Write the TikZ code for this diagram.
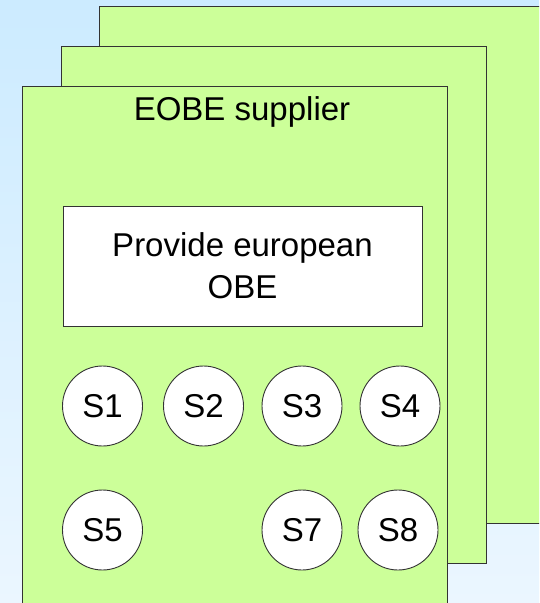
\documentclass[tikz,border=0pt]{standalone}
\usepackage{fontspec}
\setmainfont{Liberation Sans}
\usepackage{xcolor}
\usepackage{tikz}
\definecolor{sky}{HTML}{CCEBFF}
\definecolor{skylow}{HTML}{EBF6FF}
\definecolor{panel}{HTML}{CCFF99}
\definecolor{edge}{HTML}{333333}
\tikzset{
  card/.style={draw=edge, fill=panel, line width=0.9pt},
  task/.style={draw=edge, fill=white, line width=0.9pt, minimum width=359pt, minimum height=120pt, align=center, inner sep=0pt, font=\fontsize{33}{42}\selectfont},
  svc/.style={circle, draw=edge, fill=white, line width=0.9pt, minimum size=80pt, inner sep=0pt, font=\fontsize{33}{38}\selectfont},
  title/.style={anchor=base, font=\fontsize{33}{38}\selectfont},
}

\begin{document}
\begin{tikzpicture}[x=1pt,y=-1pt]
  \useasboundingbox (0,0) rectangle (539,603);
  \clip (0,0) rectangle (539,603);
  \shade[top color=sky, bottom color=skylow] (0,0) rectangle (539,603);

  % three stacked supplier cards
  \draw[card] (99,6) rectangle (560,523);
  \draw[card] (61,46) rectangle (486,563);
  \draw[card] (22,86) rectangle (447,620);

  \node[title] (supplier) at (242,120) {EOBE supplier};
  \node[task] (provide) at (242.5,266) {Provide european\\OBE};

  \node[svc] (s1) at (102.5,406) {S1};
  \node[svc] (s2) at (203.5,406) {S2};
  \node[svc] (s3) at (302,406) {S3};
  \node[svc] (s4) at (400,406) {S4};
  \node[svc] (s5) at (102.5,530) {S5};
  \node[svc] (s7) at (302,530) {S7};
  \node[svc] (s8) at (398,530) {S8};
\end{tikzpicture}
\end{document}
